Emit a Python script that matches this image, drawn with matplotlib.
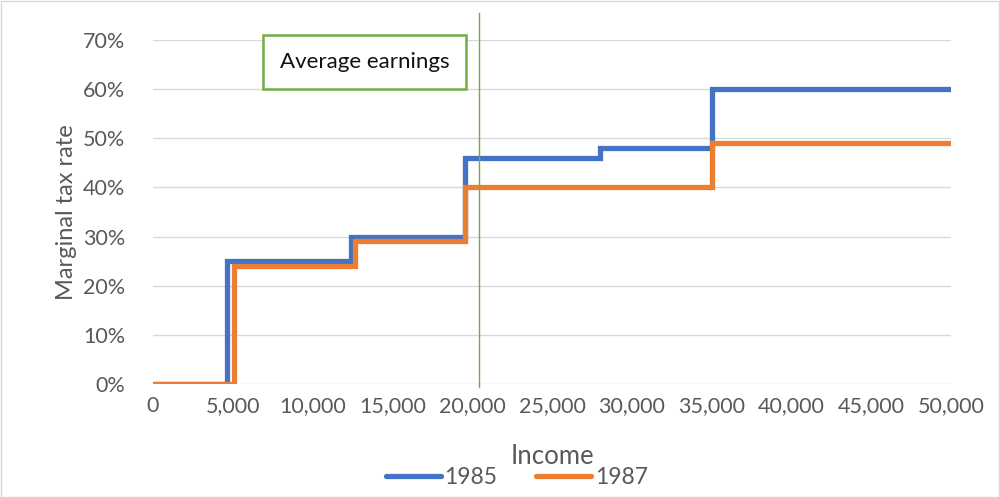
import numpy as np
import matplotlib.pyplot as plt
from matplotlib.ticker import FuncFormatter, FixedLocator

# step thresholds (income) and marginal rates (%)
x_1985 = [0, 4650, 12400, 19550, 28000, 35000, 50000]
r_1985 = [0, 25, 30, 46, 48, 60, 60]
x_1987 = [0, 5100, 12650, 19550, 35000, 50000]
r_1987 = [0, 24, 29, 40, 49, 49]
avg_earnings = 20400
xticks = list(range(0, 50001, 5000))
yticks = list(range(0, 71, 10))

plt.rcParams["font.family"] = ["Lato", "DejaVu Sans"]
grey = "#595959"

fig = plt.figure(figsize=(10, 4.97), dpi=100)
ax = fig.add_axes([0.153, 1 - 384/497, 0.798, 344/497])

ax.step(x_1985, r_1985, where="post", color="#4472C4", lw=3.8, label="1985",
        solid_joinstyle="miter", solid_capstyle="round", zorder=3)
ax.step(x_1987, r_1987, where="post", color="#ED7D31", lw=3.8, label="1987",
        solid_joinstyle="miter", solid_capstyle="round", zorder=3)

ax.plot([avg_earnings, avg_earnings], [-0.6, 75.5], color="#70AD47", lw=1,
        clip_on=False, zorder=4)
ax.text(13250, 65.5, "Average earnings", ha="center", va="center", fontsize=16,
        color="#111111", zorder=5,
        bbox=dict(boxstyle="square,pad=0.76", fc="white", ec="#70AD47", lw=1.8))

ax.set_xlim(0, 50000)
ax.set_ylim(0, 70)
ax.xaxis.set_major_locator(FixedLocator(xticks))
ax.yaxis.set_major_locator(FixedLocator(yticks))
ax.xaxis.set_major_formatter(FuncFormatter(lambda v, p: f"{int(v):,}"))
ax.yaxis.set_major_formatter(FuncFormatter(lambda v, p: f"{int(v)}%"))
ax.grid(axis="y", color="#D9D9D9", lw=1)
ax.set_axisbelow(True)
for s in ax.spines.values():
    s.set_visible(False)
ax.tick_params(length=0, labelsize=15.5, colors=grey, pad=9)
ax.tick_params(axis="y", pad=20)

ax.set_ylabel("Marginal tax rate", fontsize=17, color=grey, labelpad=4)
ax.set_xlabel("Income", fontsize=18.5, color=grey, labelpad=20)

fig.legend(loc="lower center", bbox_to_anchor=(0.517, -0.024), ncol=2, frameon=False,
           fontsize=16.5, labelcolor=grey, handlelength=2.4, handletextpad=0.15,
           columnspacing=1.7)

fig.patches.append(plt.Rectangle((0.001, 0.001), 0.998, 0.997, transform=fig.transFigure,
                                 fill=False, ec="#D9D9D9", lw=1))

fig.savefig("out.png", dpi=100)
